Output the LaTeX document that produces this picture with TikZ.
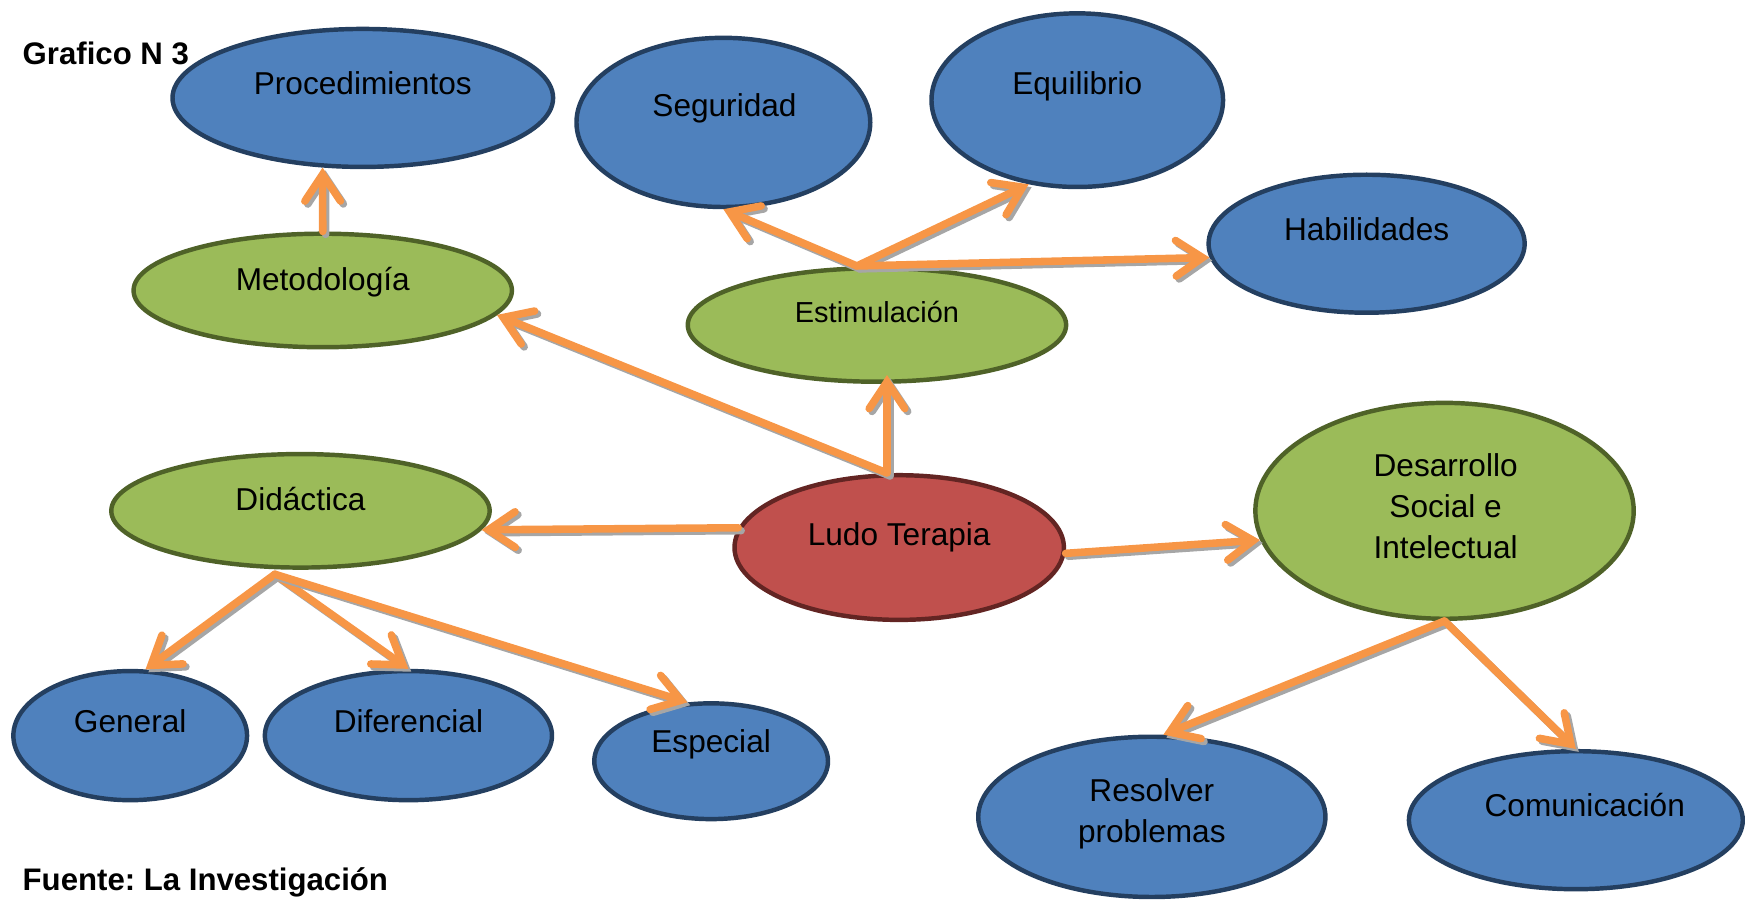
\documentclass[tikz,border=0pt]{standalone}
\usepackage{fontspec}
\setmainfont{Liberation Sans}
\usetikzlibrary{arrows.meta,shapes.geometric}
\frenchspacing

\definecolor{azul}{HTML}{4F81BD}
\definecolor{azulosc}{HTML}{243F60}
\definecolor{verde}{HTML}{9BBB59}
\definecolor{verdeosc}{HTML}{4F6228}
\definecolor{rojo}{HTML}{C0504D}
\definecolor{rojoosc}{HTML}{632523}
\definecolor{naranja}{HTML}{F79646}

\tikzset{
  ball/.style={ellipse, line width=2pt, inner sep=0pt},
  blueball/.style={ball, fill=azul, draw=azulosc},
  greenball/.style={ball, fill=verde, draw=verdeosc},
  redball/.style={ball, fill=rojo, draw=rojoosc},
  txt/.style={anchor=base, inner sep=0pt, align=center, font={\fontsize{14.2}{18.5}\selectfont}},
  titulo/.style={anchor=base west, inner sep=0pt, font={\fontsize{14}{17}\selectfont\bfseries}},
  conector/.style={draw=naranja, line width=3.4pt, line cap=round,
    -{Straight Barb[length=12pt,width=16pt,line cap=round]}},
  sombra/.style={conector, draw=black!35,
    transform canvas={shift={(1.3pt,-1.3pt)}}}
}

\newcommand{\flecha}[2]{%
  \draw[sombra] (#1) -- (#2);
  \draw[conector] (#1) -- (#2);}

\begin{document}
\begin{tikzpicture}[x=0.5pt, y=-0.5pt]
  \useasboundingbox (0,0) rectangle (1568,808);

  % ellipses
  \node[blueball, minimum width=171pt, minimum height=62pt] (proc) at (326,88) {};
  \node[blueball, minimum width=132pt, minimum height=76pt] (seg) at (650,110) {};
  \node[blueball, minimum width=131pt, minimum height=78pt] (equi) at (968,90) {};
  \node[blueball, minimum width=142pt, minimum height=62pt] (hab) at (1228,219) {};
  \node[greenball, minimum width=170pt, minimum height=51pt] (metod) at (290,261) {};
  \node[greenball, minimum width=170pt, minimum height=51pt] (estim) at (788,292) {};
  \node[greenball, minimum width=170pt, minimum height=51pt] (did) at (270,459) {};
  \node[redball, minimum width=148pt, minimum height=65pt] (ludo) at (808,492) {};
  \node[greenball, minimum width=170pt, minimum height=97pt] (desa) at (1298,459) {};
  \node[blueball, minimum width=105pt, minimum height=58pt] (gen) at (117,661) {};
  \node[blueball, minimum width=129pt, minimum height=58pt] (dif) at (367,661) {};
  \node[blueball, minimum width=105pt, minimum height=52pt] (esp) at (639,684) {};
  \node[blueball, minimum width=156pt, minimum height=72pt] (resol) at (1035,734) {};
  \node[blueball, minimum width=150pt, minimum height=62pt] (comun) at (1416,737) {};

  % texts
  \node[titulo] (graf) at (20,58) {Grafico N 3};
  \node[txt] (proc-t) at (326,85) {Procedimientos};
  \node[txt] (seg-t) at (651,105) {Seguridad};
  \node[txt] (equi-t) at (968,85) {Equilibrio};
  \node[txt] (hab-t) at (1228,216) {Habilidades};
  \node[txt] (metod-t) at (290,261) {Metodología};
  \node[txt, font={\fontsize{13}{17}\selectfont}] (estim-t) at (788,290) {Estimulación};
  \node[txt] (did-t) at (270,459) {Didáctica};
  \node[txt] (ludo-t) at (808,490) {Ludo Terapia};
  \node[txt, anchor=center] (desa-t) at (1299,455) {Desarrollo\\Social e\\Intelectual};
  \node[txt] (gen-t) at (117,658) {General};
  \node[txt] (dif-t) at (367,658) {Diferencial};
  \node[txt] (esp-t) at (639,676) {Especial};
  \node[txt, anchor=center] (resol-t) at (1035,731) {Resolver\\problemas};
  \node[txt] (comun-t) at (1424,734) {Comunicación};
  \node[titulo] (fuente) at (20,800) {Fuente: La Investigación};

  % arrows
  \coordinate (estim-top) at ([xshift=-9pt]estim.north);
  \coordinate (ludo-top) at ([xshift=-5.5pt]ludo.north);
  \coordinate (did-bot) at ([xshift=-11.5pt,yshift=-2pt]did.south);
  \coordinate (estim-bot) at ([xshift=4.5pt,yshift=4pt]estim.south);
  \flecha{metod.north}{proc.240}
  \flecha{estim-top}{seg.south}
  \flecha{estim-top}{equi.240}
  \flecha{estim-top}{hab.185}
  \flecha{ludo-top}{metod.352}
  \flecha{ludo-top}{estim-bot}
  \flecha{ludo.173}{did.354}
  \flecha{ludo.358}{desa.189}
  \flecha{did-bot}{gen.77}
  \flecha{did-bot}{dif.north}
  \flecha{did-bot}{esp.112}
  \flecha{desa.south}{resol.82}
  \flecha{desa.south}{comun.north}
\end{tikzpicture}
\end{document}
